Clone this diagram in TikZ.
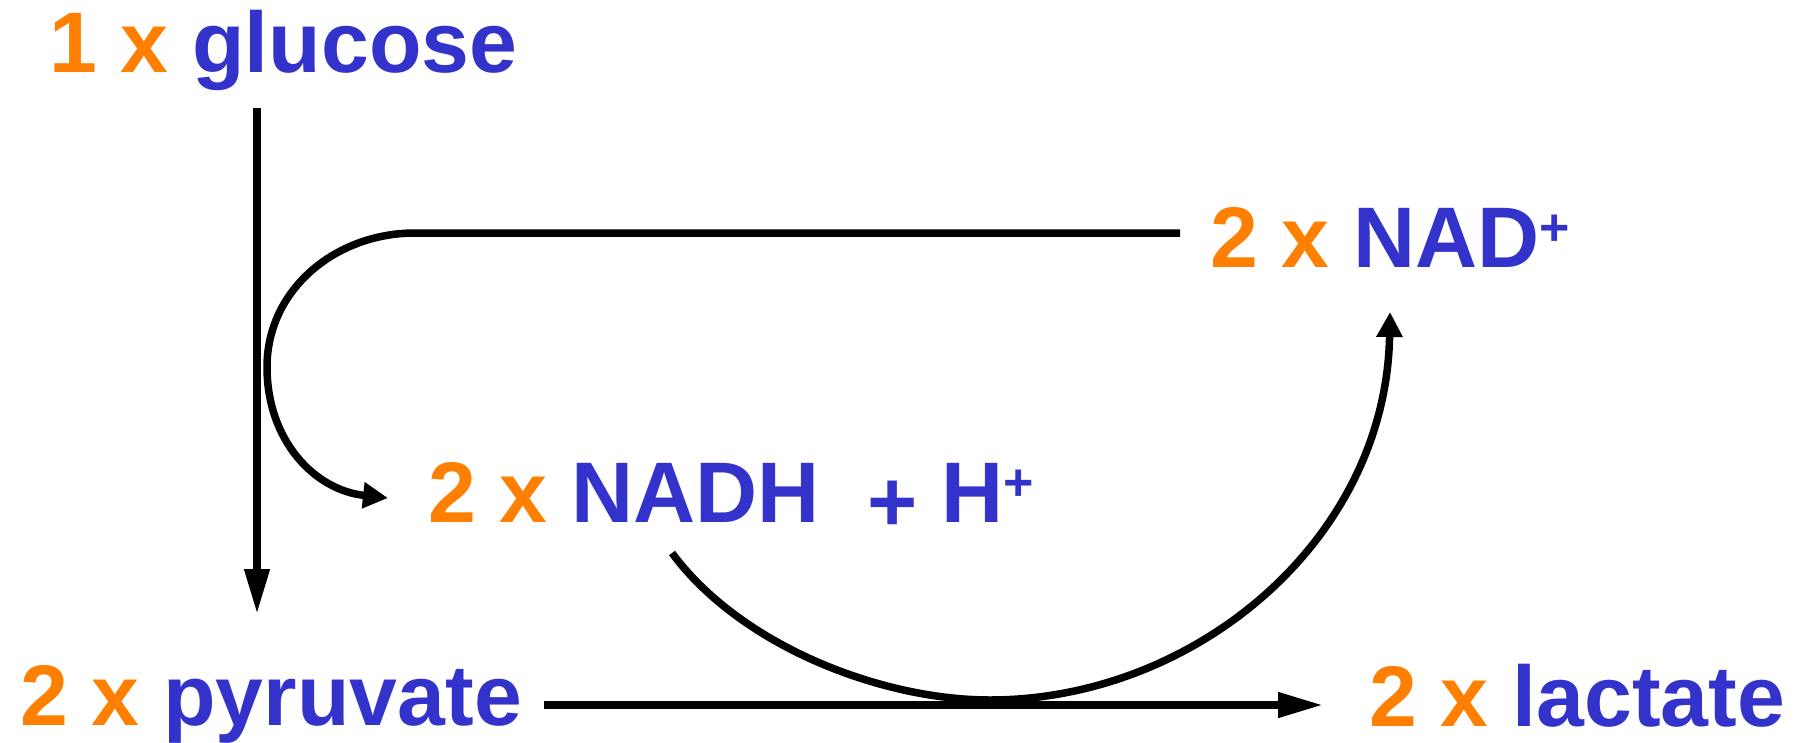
\documentclass[tikz,border=0pt]{standalone}
\usepackage{fontspec}
\setmainfont{Liberation Sans}
\usetikzlibrary{arrows.meta}
\definecolor{nOrange}{HTML}{FF8000}
\definecolor{nBlue}{HTML}{3333CC}
\tikzset{
  lbl/.style={anchor=base west, inner sep=0pt, outer sep=0pt,
    font=\fontsize{86}{86}\selectfont\bfseries, text=nBlue},
  conn/.style={line width=7.5pt, draw=black},
  bigtip/.style={-{Triangle[length=45pt,width=24pt]}},
  smalltip/.style={-{Triangle[length=25pt,width=25pt]}},
}
\newcommand{\qty}[1]{\textcolor{nOrange}{#1}}
\newcommand{\supplus}{{\fontsize{52}{52}\selectfont\raisebox{22pt}{+}}}
\begin{document}
\begin{tikzpicture}[x=1pt,y=-1pt]
\useasboundingbox (0,0) rectangle (1798,742);
% labels
\node[lbl] (glucose)  at (49,72)    {\qty{1 x} glucose};
\node[lbl] (nad)      at (1210,267) {\qty{2 x} NAD\supplus};
\node[lbl] (nadh)     at (428,522)  {\qty{2 x} NADH\ \ \raisebox{-9pt}{+} H\supplus};
\node[lbl] (pyruvate) at (20,725)   {\qty{2 x} pyruvate};
\node[lbl] (lactate)  at (1369,726) {\qty{2 x} lactate};
% connector end points
\coordinate (gluc-out) at (257,108);
\coordinate (pyr-in) at (257,614);
\coordinate (pyr-out) at (544,705);
\coordinate (lac-in) at (1323,705);
\coordinate (nad-out) at (1180,233);
\coordinate (loop-top) at (415,233);
\coordinate (loop-left) at (267,367);
\coordinate (nadh-in) at (388,498);
\coordinate (nadh-out) at (672,553);
\coordinate (curve-bottom) at (990,700);
\coordinate (nad-in) at (1390,312);
% connectors
\draw[conn, bigtip] (gluc-out) -- (pyr-in);
\draw[conn, bigtip] (pyr-out) -- (lac-in);
\draw[conn, smalltip] (nad-out) -- (loop-top)
  .. controls (335,233) and (267,290) .. (loop-left)
  .. controls (267,440) and (314,490) .. (nadh-in);
\draw[conn, smalltip] (nadh-out)
  .. controls (740,645) and (880,700) .. (curve-bottom)
  .. controls (1195,700) and (1386,540) .. (nad-in);
\end{tikzpicture}
\end{document}
